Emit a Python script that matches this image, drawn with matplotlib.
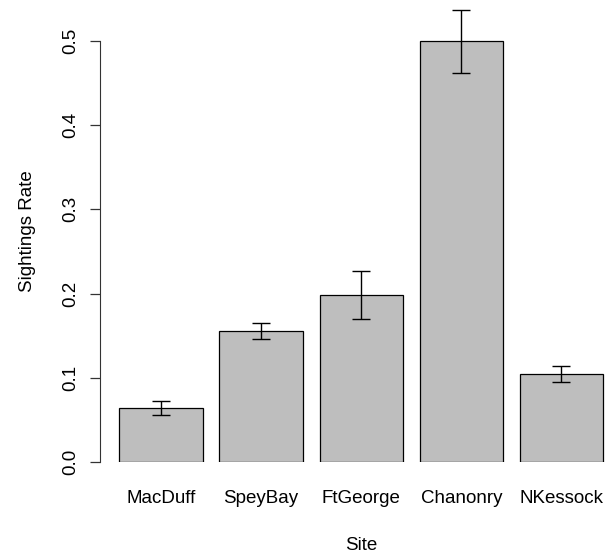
import numpy as np
import matplotlib
matplotlib.use("Agg")
from matplotlib import pyplot as plt

sites = ['MacDuff', 'SpeyBay', 'FtGeorge', 'Chanonry', 'NKessock']
rate = [0.064, 0.155, 0.198, 0.500, 0.104]
err_low = [0.0555, 0.1455, 0.1695, 0.462, 0.095]
err_high = [0.0725, 0.1655, 0.2265, 0.537, 0.114]

plt.rcParams['font.family'] = ['Liberation Sans', 'DejaVu Sans']

fig = plt.figure(figsize=(6.06, 5.55), dpi=100)
# plot region runs past the right edge, like the original R device crop
ax = fig.add_axes([100 / 606, 93 / 555, 522.4 / 606, 462 / 555])

# R barplot layout: width 1, space 0.2
x = 0.7 + 1.2 * np.arange(len(sites))
ax.bar(x, rate, width=1.0, color='#BEBEBE', edgecolor='black', linewidth=0.9)

rate_arr = np.array(rate)
yerr = [rate_arr - np.array(err_low), np.array(err_high) - rate_arr]
ax.errorbar(x, rate, yerr=yerr, fmt='none', ecolor='black', elinewidth=1.0,
            capsize=6.5, capthick=1.0, clip_on=False)

ax.set_xlim(-0.032, 6.232)
ax.set_ylim(0, 0.5487)

for s in ['top', 'right', 'bottom']:
    ax.spines[s].set_visible(False)
ax.spines['left'].set_bounds(0, 0.5)
ax.spines['left'].set_color('#333333')

fs = 13.5
ax.set_yticks([0.0, 0.1, 0.2, 0.3, 0.4, 0.5])
ax.set_yticklabels(['0.0', '0.1', '0.2', '0.3', '0.4', '0.5'], rotation=90, va='center')
ax.tick_params(axis='y', length=7, width=0.9, color='#333333', pad=8, labelsize=fs)

ax.set_xticks(x)
ax.set_xticklabels(sites)
ax.tick_params(axis='x', length=0, pad=20, labelsize=fs)

ax.set_xlabel('Site', fontsize=fs, labelpad=22)
ax.set_ylabel('Sightings Rate', fontsize=fs, labelpad=19)

fig.savefig('out.png', dpi=100)
